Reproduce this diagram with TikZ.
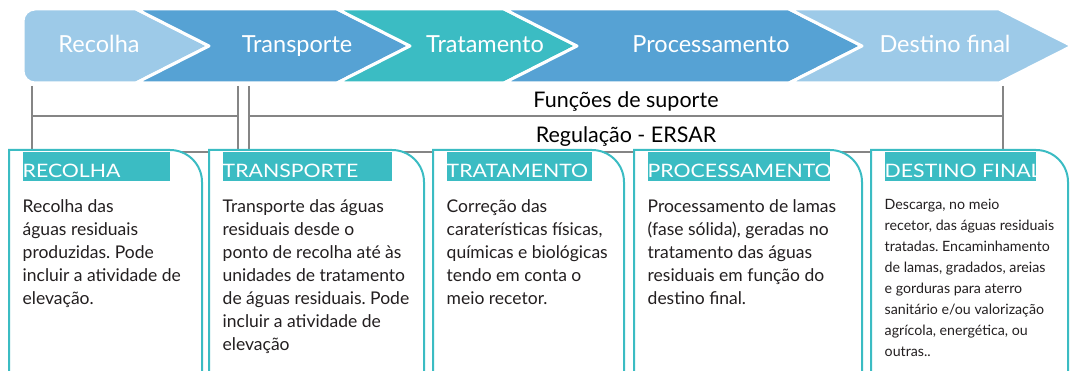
\documentclass[tikz,border=0pt]{standalone}
\usepackage{fontspec}
\setmainfont{Lato}
\newfontfamily\capsfont[FakeStretch=1.15]{Lato}
\usetikzlibrary{positioning}
\frenchspacing
\definecolor{bandlight}{HTML}{9DCAE8}
\definecolor{bandmid}{HTML}{56A2D4}
\definecolor{bandteal}{HTML}{3BBCC3}
\definecolor{rulegray}{HTML}{858585}
\definecolor{bodytext}{HTML}{231F20}
\tikzset{
  band/.style={draw=white, line width=3pt, line join=round},
  stagetxt/.style={text=white, font=\fontsize{23.5}{28}\selectfont, anchor=base, inner sep=0pt},
  rule/.style={draw=rulegray, line width=1.5pt},
  rowtxt/.style={text=black, font=\fontsize{21.5}{26}\selectfont, anchor=base, inner sep=0pt},
  card/.style={draw=bandteal, fill=white, line width=2pt},
  cardhead/.style={fill=bandteal},
  headtxt/.style={text=white, font=\capsfont\fontsize{18.5}{22}\selectfont, anchor=base west, inner sep=0pt},
  % base = baseline of the last line
  bodytxt/.style={text=bodytext, font=\fontsize{17.5}{22.9}\selectfont, anchor=base west, inner sep=0pt, align=left},
  smalltxt/.style={bodytxt, font=\fontsize{14.2}{20.9}\selectfont}
}
\begin{document}
\begin{tikzpicture}[x=1pt, y=1pt]
    \useasboundingbox (0,0) rectangle (1076,371);
    % etapas
    \filldraw[band, fill=bandlight] (209,325) -- (136,288) -- (35,288)
        arc[start angle=270, end angle=180, radius=12pt] -- (23,350)
        arc[start angle=180, end angle=90, radius=12pt] -- (136,362) -- cycle;
    \foreach \xa/\xb/\col in {136/337/bandmid, 337/504/bandteal, 504/789/bandmid, 789/999/bandlight}
        \filldraw[band, fill=\col] (\xa,362) -- (\xb,362) -- (\xb+73,325) -- (\xb,288) -- (\xa,288) -- (\xa+73,325) -- cycle;
    \node[stagetxt] (recolha) at (99,318.3) {Recolha};
    \node[stagetxt] (transporte) at (297,318.3) {Transporte};
    \node[stagetxt] (tratamento) at (485,318.3) {Tratamento};
    \node[stagetxt] (processamento) at (711,318.3) {Processamento};
    \node[stagetxt] (destino) at (945,318.3) {Destino final};
    % funções de suporte e regulação
    \foreach \x in {32, 238, 249, 1003}
        \draw[rule] (\x,285) -- (\x,219);
    \draw[rule] (32,255) -- (238,255);
    \draw[rule] (249,255) -- (1003,255);
    \draw[rule] (32,219) -- (1003,219);
    \node[rowtxt] (suporte) at (626,263) {Funções de suporte};
    \node[rowtxt] (ersar) at (626,228.3) {Regulação - ERSAR};
    % fichas
    \foreach \xa/\xb/\head [count=\i] in {9/202/RECOLHA, 209/424/TRANSPORTE, 433/624/TRATAMENTO, 634/862/PROCESSAMENTO, 871/1068/DESTINO FINAL} {
        \filldraw[card] (\xa,-4) -- (\xa,221) -- (\xb-32,221)
            arc[start angle=90, end angle=0, radius=32pt] -- (\xb,-4);
        \fill[cardhead] (\xa+13.5,190) rectangle (\xb-32,219);
        \node[headtxt] (head\i) at (\xa+13.5,193.5) {\head};
    }
    \node[bodytxt] (body1) at (22.5,66.7) {Recolha das\\águas residuais\\produzidas. Pode\\incluir a atividade de\\elevação.};
    \node[bodytxt] (body2) at (222.5,20.9) {Transporte das águas\\residuais desde o\\ponto de recolha até às\\unidades de tratamento\\de águas residuais. Pode\\incluir a atividade de\\elevação};
    \node[bodytxt] (body3) at (446.5,66.7) {Correção das\\caraterísticas físicas,\\químicas e biológicas\\tendo em conta o\\meio recetor.};
    \node[bodytxt] (body4) at (647.5,66.7) {Processamento de lamas\\(fase sólida), geradas no\\tratamento das águas\\residuais em função do\\destino final.};
    \node[smalltxt] (body5) at (884.5,14.7) {Descarga, no meio\\recetor, das águas residuais\\tratadas. Encaminhamento\\de lamas, gradados, areias\\e gorduras para aterro\\sanitário e/ou valorização\\agrícola, energética, ou\\outras..};
\end{tikzpicture}
\end{document}
